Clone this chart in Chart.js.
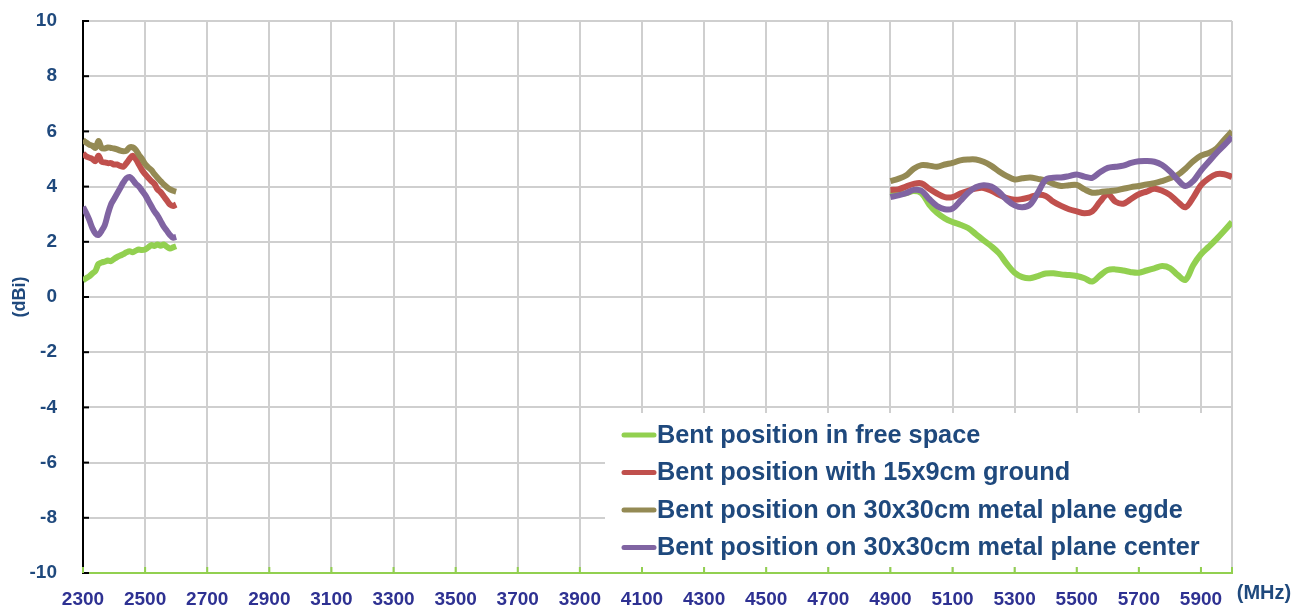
<!DOCTYPE html>
<html>
<head>
<meta charset="utf-8">
<script src="https://cdn.jsdelivr.net/npm/chart.js@4/dist/chart.umd.min.js"></script>
<style>
    body { margin: 0; background: #ffffff; }
    #caixa { width: 1315px; height: 613px; position: relative; }
</style>
</head>
<body>
<div id="caixa"><canvas id="grafico"></canvas></div>
<script>

// faixa 2.4 GHz (passo de 10 MHz)
const freqLow = [2300, 2310, 2320, 2330, 2340, 2350, 2360, 2370, 2380, 2390, 2400,
    2410, 2420, 2430, 2440, 2450, 2460, 2470, 2480, 2490, 2500,
    2510, 2520, 2530, 2540, 2550, 2560, 2570, 2580, 2590, 2600]

// faixa 5 GHz (passo de 25 MHz)
const freqHigh = [4900, 4925, 4950, 4975, 5000, 5025, 5050, 5075, 5100, 5125, 5150,
    5175, 5200, 5225, 5250, 5275, 5300, 5325, 5350, 5375, 5400, 5425, 5450,
    5475, 5500, 5525, 5550, 5575, 5600, 5625, 5650, 5675, 5700, 5725, 5750,
    5775, 5800, 5825, 5850, 5875, 5900, 5925, 5950, 5975, 6000]

const labels = [
    'Bent position in free space',
    'Bent position with 15x9cm ground',
    'Bent position on 30x30cm metal plane egde',
    'Bent position on 30x30cm metal plane center'
]
const colors = ['#92D050', '#C0504D', '#948A54', '#8064A2']

const freeLow = [0.6, 0.68, 0.75, 0.85, 0.95, 1.2, 1.25, 1.28, 1.32, 1.3, 1.38,
    1.45, 1.5, 1.55, 1.62, 1.66, 1.62, 1.68, 1.72, 1.7, 1.72,
    1.8, 1.88, 1.85, 1.9, 1.86, 1.9, 1.82, 1.76, 1.8, 1.84]
const freeHigh = [3.8, 3.74, 3.76, 3.84, 3.76, 3.35, 3.05, 2.85, 2.72, 2.62, 2.5,
    2.28, 2.05, 1.84, 1.58, 1.2, 0.88, 0.72, 0.68, 0.76, 0.85, 0.86, 0.82,
    0.8, 0.76, 0.68, 0.56, 0.78, 0.98, 1.0, 0.96, 0.9, 0.88, 0.96, 1.04,
    1.12, 1.05, 0.8, 0.62, 1.15, 1.55, 1.82, 2.1, 2.4, 2.72]

const groundLow = [5.2, 5.1, 5.05, 5.0, 4.92, 5.12, 4.9, 4.88, 4.85, 4.85, 4.8,
    4.8, 4.75, 4.72, 4.85, 5.0, 5.12, 5.0, 4.8, 4.6, 4.45,
    4.32, 4.2, 4.1, 3.9, 3.8, 3.65, 3.5, 3.35, 3.3, 3.35]
const groundHigh = [3.88, 3.9, 4.0, 4.1, 4.12, 3.92, 3.75, 3.62, 3.62, 3.75, 3.85,
    3.93, 3.95, 3.85, 3.7, 3.58, 3.52, 3.55, 3.62, 3.7, 3.66, 3.45, 3.3,
    3.18, 3.1, 3.03, 3.1, 3.45, 3.72, 3.45, 3.38, 3.55, 3.72, 3.82, 3.92,
    3.85, 3.7, 3.45, 3.25, 3.6, 4.05, 4.3, 4.45, 4.45, 4.35]

const edgeLow = [5.68, 5.6, 5.52, 5.48, 5.4, 5.65, 5.4, 5.38, 5.42, 5.4, 5.38,
    5.35, 5.3, 5.28, 5.3, 5.42, 5.42, 5.33, 5.15, 5.0, 4.82,
    4.7, 4.6, 4.45, 4.32, 4.2, 4.08, 3.98, 3.9, 3.85, 3.82]
const edgeHigh = [4.2, 4.28, 4.4, 4.65, 4.78, 4.76, 4.72, 4.8, 4.86, 4.95, 4.98,
    4.98, 4.9, 4.75, 4.55, 4.38, 4.26, 4.3, 4.33, 4.28, 4.22, 4.1, 4.02,
    4.05, 4.06, 3.9, 3.78, 3.8, 3.83, 3.86, 3.92, 3.98, 4.02, 4.08, 4.12,
    4.2, 4.3, 4.42, 4.65, 4.92, 5.12, 5.22, 5.38, 5.7, 6.0]

const centerLow = [3.27, 3.05, 2.8, 2.5, 2.3, 2.25, 2.4, 2.6, 3.0, 3.35, 3.55,
    3.75, 3.95, 4.15, 4.3, 4.35, 4.25, 4.1, 4.0, 3.85, 3.7,
    3.5, 3.3, 3.1, 2.95, 2.75, 2.55, 2.4, 2.25, 2.15, 2.18]
const centerHigh = [3.62, 3.68, 3.76, 3.88, 3.85, 3.55, 3.3, 3.18, 3.2, 3.48, 3.78,
    3.98, 4.05, 4.0, 3.8, 3.52, 3.32, 3.25, 3.35, 3.78, 4.25, 4.32, 4.33,
    4.38, 4.44, 4.36, 4.32, 4.52, 4.68, 4.72, 4.76, 4.86, 4.92, 4.93, 4.9,
    4.78, 4.55, 4.25, 4.02, 4.2, 4.58, 4.9, 5.22, 5.5, 5.8]

const xTicks = [2300, 2500, 2700, 2900, 3100, 3300, 3500, 3700, 3900, 4100, 4300,
    4500, 4700, 4900, 5100, 5300, 5500, 5700, 5900, 6000]
const yTicks = [-10, -8, -6, -4, -2, 0, 2, 4, 6, 8, 10]

// junta as duas faixas com um null no meio para separar as curvas
function montaPontos(low, high) {
    const pontos = []
    for (let i = 0; i < freqLow.length; i++) {
        pontos.push({ x: freqLow[i], y: low[i] })
    }
    pontos.push({ x: 3750, y: null })
    for (let i = 0; i < freqHigh.length; i++) {
        pontos.push({ x: freqHigh[i], y: high[i] })
    }
    return pontos
}

const series = [
    [freeLow, freeHigh],
    [groundLow, groundHigh],
    [edgeLow, edgeHigh],
    [centerLow, centerHigh]
]

const datasets = []
for (let i = 0; i < series.length; i++) {
    datasets.push({
        label: labels[i],
        data: montaPontos(series[i][0], series[i][1]),
        borderColor: colors[i],
        backgroundColor: colors[i],
        borderWidth: 6,
        pointRadius: 0,
        tension: 0.35,
        spanGaps: false,
        order: series.length - i   // roxo por cima, igual ao Excel
    })
}

const corAzul = '#1F497D'
const corEixoX = '#2E3192'

// legenda desenhada dentro da área do gráfico + (MHz) + marcas dos eixos
const extras = {
    id: 'extras',
    beforeDatasetsDraw(chart) {
        const ctx = chart.ctx
        const area = chart.chartArea
        ctx.save()
        ctx.fillStyle = '#ffffff'
        ctx.fillRect(605, 413, area.right - 605 - 1, 154)

        ctx.font = 'bold 25.3px "Liberation Sans", Arial, sans-serif'
        ctx.textBaseline = 'middle'
        for (let i = 0; i < labels.length; i++) {
            const y = 435 + i * 37.5
            ctx.strokeStyle = colors[i]
            ctx.lineWidth = 5
            ctx.lineCap = 'round'
            ctx.beginPath()
            ctx.moveTo(624, y)
            ctx.lineTo(654, y)
            ctx.stroke()
            ctx.fillStyle = corAzul
            ctx.textAlign = 'left'
            ctx.fillText(labels[i], 657, y + 1)
        }
        ctx.restore()
    },
    afterDraw(chart) {
        const ctx = chart.ctx
        const area = chart.chartArea
        const sx = chart.scales.x
        const sy = chart.scales.y
        ctx.save()
        // marcas do eixo y (pretas, para dentro)
        ctx.strokeStyle = '#000000'
        ctx.lineWidth = 2
        for (const v of yTicks) {
            const py = sy.getPixelForValue(v)
            ctx.beginPath()
            ctx.moveTo(area.left, py)
            ctx.lineTo(area.left + 6, py)
            ctx.stroke()
        }
        // marcas do eixo x (verdes, para cima)
        ctx.strokeStyle = '#92D050'
        for (const v of xTicks) {
            const px = sx.getPixelForValue(v)
            ctx.beginPath()
            ctx.moveTo(px, area.bottom)
            ctx.lineTo(px, area.bottom - 6)
            ctx.stroke()
        }
        ctx.fillStyle = corAzul
        ctx.font = 'bold 20px "Liberation Sans", Arial, sans-serif'
        ctx.textAlign = 'center'
        ctx.textBaseline = 'middle'
        ctx.fillText('(MHz)', 1264, 593)
        ctx.restore()
    }
}

const config = {
    type: 'line',
    data: { datasets: datasets },
    options: {
        responsive: true,
        maintainAspectRatio: false,
        animation: false,
        layout: { padding: { top: 21, right: 83, bottom: 0, left: 0 } },
        plugins: {
            legend: { display: false },
            tooltip: { enabled: false }
        },
        scales: {
            x: {
                type: 'linear',
                min: 2300,
                max: 6000,
                afterBuildTicks: function (scale) {
                    scale.ticks = xTicks.map(v => ({ value: v }))
                },
                afterFit: function (scale) {
                    scale.height = 40
                },
                ticks: {
                    autoSkip: false,
                    maxRotation: 0,
                    padding: 15,
                    color: corEixoX,
                    font: { family: '"Liberation Sans", Arial, sans-serif', size: 19, weight: 'bold' },
                    callback: function (v) {
                        return v === 6000 ? '' : v
                    }
                },
                grid: { color: '#CFCFCF', lineWidth: 2, drawTicks: false },
                border: { color: '#92D050', width: 2 }
            },
            y: {
                min: -10,
                max: 10,
                afterBuildTicks: function (scale) {
                    scale.ticks = yTicks.map(v => ({ value: v }))
                },
                afterFit: function (scale) {
                    scale.width = 83
                },
                ticks: {
                    padding: 4,
                    color: corAzul,
                    font: { family: '"Liberation Sans", Arial, sans-serif', size: 19, weight: 'bold' }
                },
                title: {
                    display: true,
                    text: '(dBi)',
                    color: corAzul,
                    padding: { top: 9, bottom: 0 },
                    font: { family: '"Liberation Sans", Arial, sans-serif', size: 18, weight: 'bold' }
                },
                // marca invisível só para afastar os números do eixo
                grid: { color: '#CFCFCF', lineWidth: 2, drawTicks: true, tickLength: 22, tickColor: 'rgba(0,0,0,0)' },
                border: { color: '#000000', width: 2 }
            }
        }
    },
    plugins: [extras]
}

new Chart(document.getElementById('grafico'), config)
</script>
</body>
</html>
